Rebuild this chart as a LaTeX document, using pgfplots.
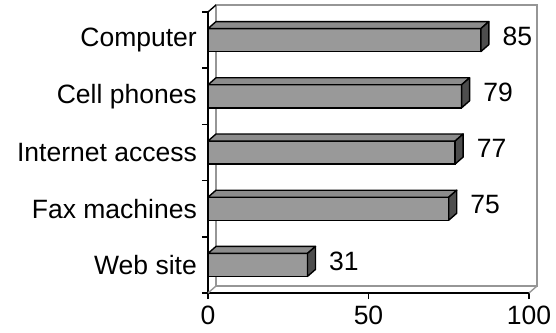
\documentclass[border=0pt]{standalone}
\usepackage{pgfplots}
\pgfplotsset{compat=1.18}
\usepackage{pgfplotstable}
\usepackage{fontspec}
\setmainfont{Liberation Sans}

\definecolor{barface}{HTML}{999999}
\definecolor{bartop}{HTML}{8C8C8C}
\definecolor{barside}{HTML}{4D4D4D}
\definecolor{wall}{HTML}{969696}

% category position (bottom to top) and share
\pgfplotstableread{
pos val
1 31
2 75
3 77
4 79
5 85
}\adoption

% top and side faces of a bar, drawn at the bar's end
\pgfdeclareplotmark{barbox}{%
  \pgfmathsetlengthmacro\barL{3.21pt*\barlen}%
  \pgfsetlinewidth{1.4pt}%
  \pgfsetroundjoin
  \pgfsetstrokecolor{black}%
  \pgfsetfillcolor{bartop}%
  \pgfpathmoveto{\pgfpoint{-\barL}{11.5pt}}%
  \pgfpathlineto{\pgfqpoint{0pt}{11.5pt}}%
  \pgfpathlineto{\pgfqpoint{8pt}{18.5pt}}%
  \pgfpathlineto{\pgfpoint{-\barL+8pt}{18.5pt}}%
  \pgfpathclose
  \pgfusepath{fill,stroke}%
  \pgfsetfillcolor{barside}%
  \pgfpathmoveto{\pgfqpoint{0pt}{-11.5pt}}%
  \pgfpathlineto{\pgfqpoint{8pt}{-4.5pt}}%
  \pgfpathlineto{\pgfqpoint{8pt}{18.5pt}}%
  \pgfpathlineto{\pgfqpoint{0pt}{11.5pt}}%
  \pgfpathclose
  \pgfusepath{fill,stroke}%
}

\begin{document}
\fontsize{26.5}{31}\selectfont
\begin{tikzpicture}
\begin{axis}[
  x=3.21pt, y=56.2pt,
  xmin=0, xmax=100, ymin=0.5, ymax=5.5,
  clip=false,
  axis lines*=left,
  axis line style={line width=1.4pt, black},
  xtick={0,50,100},
  ytick={1,...,5},
  yticklabels={Web site, Fax machines, Internet access, Cell phones, Computer},
  minor ytick={0.5,1.5,...,5.5},
  tick align=outside,
  major tick length=6pt,
  minor tick length=6pt,
  major y tick style={draw=none},
  minor y tick style={line width=1.4pt, black},
  major x tick style={line width=1.4pt, black},
  tick label style={font=\fontsize{26.5}{31}\selectfont, inner sep=0pt},
  yticklabel style={xshift=-5pt},
  xticklabel style={yshift=-7pt},
  /pgf/number format/assume math mode=true,
]
  % back wall of the plot area
  \draw[wall, line width=1.4pt]
    ([shift={(8pt,7pt)}]rel axis cs:0,0) rectangle ([shift={(8pt,7pt)}]rel axis cs:1,1);
  \draw[wall, line width=1.4pt] (rel axis cs:0,0) -- ++(8pt,7pt);
  \draw[wall, line width=1.4pt] (rel axis cs:1,0) -- ++(8pt,7pt);
  \draw[black, line width=1.4pt] (rel axis cs:0,1) -- ++(8pt,7pt);

  % front faces with value labels
  \addplot[xbar, bar width=23pt, fill=barface, draw=black, line width=1.4pt,
    nodes near coords,
    nodes near coords style={anchor=west, inner sep=0pt, xshift=21pt, yshift=4pt,
      font=\fontsize{26.5}{31}\selectfont, text=black}]
    table[x=val, y=pos]{\adoption};

  % depth of each bar
  \addplot[only marks, mark=barbox,
    visualization depends on={\thisrow{val} \as \barlen}]
    table[x=val, y=pos]{\adoption};
\end{axis}
\pgfresetboundingbox
\path ([shift={(-208pt,-39pt)}]current axis.south west)
  rectangle ([shift={(348pt,293pt)}]current axis.south west);
\end{tikzpicture}
\end{document}
